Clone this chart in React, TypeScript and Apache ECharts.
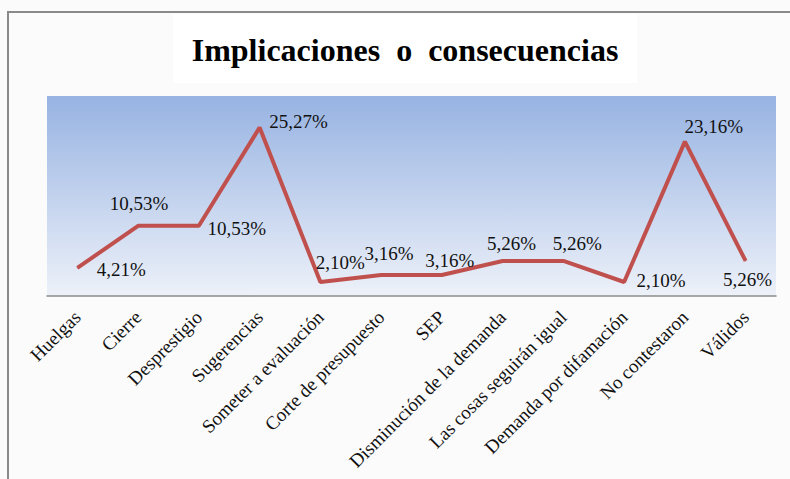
import React, { useEffect, useRef } from "react";
import * as echarts from "echarts";

const categories = [
  "Huelgas",
  "Cierre",
  "Desprestigio",
  "Sugerencias",
  "Someter a evaluación",
  "Corte de presupuesto",
  "SEP",
  "Disminución de la demanda",
  "Las cosas seguirán igual",
  "Demanda por difamación",
  "No contestaron",
  "Válidos",
];

const values = [4.21, 10.53, 10.53, 25.27, 2.1, 3.16, 3.16, 5.26, 5.26, 2.1, 23.16, 5.26];

const labelOffsets: [number, number][] = [
  [44, 2],
  [1, -22],
  [38, 3],
  [39, -6],
  [20, -20],
  [8, -21],
  [8, -14],
  [9, -17],
  [14, -17],
  [37, -2],
  [29, -15],
  [2, 19],
];

const titleText = "Implicaciones  o  consecuencias";

export default function App() {
  const ref = useRef<HTMLDivElement>(null);

  useEffect(() => {
    if (!ref.current) return;
    const chart = echarts.init(ref.current, null, { renderer: "svg" });
    const serif = "'Liberation Serif', 'Times New Roman', serif";
    chart.setOption({
      animation: false,
      backgroundColor: "#fbfbfb",
      graphic: [
        {
          type: "rect",
          shape: { x: 8, y: 12, width: 800, height: 500 },
          style: { fill: "none", stroke: "#8a8a8a", lineWidth: 2 },
          z: 0,
        },
        {
          type: "rect",
          shape: { x: 173, y: 14, width: 464, height: 69 },
          style: { fill: "#ffffff" },
          z: 0,
        },
        {
          type: "text",
          x: 405,
          y: 50,
          style: {
            text: titleText,
            font: `bold 32px ${serif}`,
            fill: "#000000",
            textAlign: "center",
            textVerticalAlign: "middle",
          },
          z: 10,
        },
      ],
      grid: {
        show: true,
        left: 47,
        right: 14,
        top: 96,
        bottom: 183,
        borderWidth: 0,
        backgroundColor: new echarts.graphic.LinearGradient(0, 0, 0, 1, [
          { offset: 0, color: "#97b3e2" },
          { offset: 1, color: "#edf1f9" },
        ]),
      },
      xAxis: {
        type: "category",
        data: categories,
        boundaryGap: true,
        axisLine: { show: true, lineStyle: { color: "#8c8c8c", width: 1.5 } },
        axisTick: { show: false },
        axisLabel: {
          rotate: 45,
          interval: 0,
          margin: 18,
          fontFamily: serif,
          fontSize: 19,
          color: "#111111",
        },
      },
      yAxis: {
        type: "value",
        min: 0,
        max: 30,
        show: false,
        splitLine: { show: false },
      },
      series: [
        {
          type: "line",
          data: values.map((v, i) => ({
            value: v,
            label: { offset: labelOffsets[i] },
          })),
          symbol: "circle",
          symbolSize: 1,
          itemStyle: { color: "#c0504d" },
          lineStyle: { color: "#c0504d", width: 4 },
          label: {
            show: true,
            position: "inside",
            fontFamily: serif,
            fontSize: 19,
            color: "#111111",
            formatter: (p: any) => p.value.toFixed(2).replace(".", ",") + "%",
          },
          z: 5,
        },
      ],
    });
    return () => chart.dispose();
  }, []);

  return (
    <div
      ref={ref}
      style={{ position: "absolute", left: 0, top: 0, width: 790, height: 479 }}
    />
  );
}
